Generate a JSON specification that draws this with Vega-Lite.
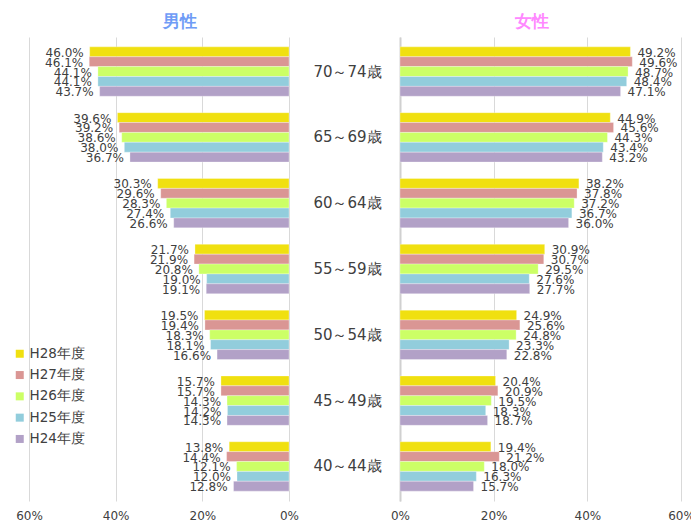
{
  "$schema": "https://vega.github.io/schema/vega-lite/v6.json",
  "background": "white",
  "padding": {"left": 13, "top": 13, "right": 5, "bottom": 0},
  "bounds": "flush",
  "spacing": 111,
  "datasets": {
    "rows": [
      {"sex": "男性", "age": "70～74歳", "year": "H28年度", "value": 0.460},
      {"sex": "男性", "age": "70～74歳", "year": "H27年度", "value": 0.461},
      {"sex": "男性", "age": "70～74歳", "year": "H26年度", "value": 0.441},
      {"sex": "男性", "age": "70～74歳", "year": "H25年度", "value": 0.441},
      {"sex": "男性", "age": "70～74歳", "year": "H24年度", "value": 0.437},
      {"sex": "男性", "age": "65～69歳", "year": "H28年度", "value": 0.396},
      {"sex": "男性", "age": "65～69歳", "year": "H27年度", "value": 0.392},
      {"sex": "男性", "age": "65～69歳", "year": "H26年度", "value": 0.386},
      {"sex": "男性", "age": "65～69歳", "year": "H25年度", "value": 0.380},
      {"sex": "男性", "age": "65～69歳", "year": "H24年度", "value": 0.367},
      {"sex": "男性", "age": "60～64歳", "year": "H28年度", "value": 0.303},
      {"sex": "男性", "age": "60～64歳", "year": "H27年度", "value": 0.296},
      {"sex": "男性", "age": "60～64歳", "year": "H26年度", "value": 0.283},
      {"sex": "男性", "age": "60～64歳", "year": "H25年度", "value": 0.274},
      {"sex": "男性", "age": "60～64歳", "year": "H24年度", "value": 0.266},
      {"sex": "男性", "age": "55～59歳", "year": "H28年度", "value": 0.217},
      {"sex": "男性", "age": "55～59歳", "year": "H27年度", "value": 0.219},
      {"sex": "男性", "age": "55～59歳", "year": "H26年度", "value": 0.208},
      {"sex": "男性", "age": "55～59歳", "year": "H25年度", "value": 0.190},
      {"sex": "男性", "age": "55～59歳", "year": "H24年度", "value": 0.191},
      {"sex": "男性", "age": "50～54歳", "year": "H28年度", "value": 0.195},
      {"sex": "男性", "age": "50～54歳", "year": "H27年度", "value": 0.194},
      {"sex": "男性", "age": "50～54歳", "year": "H26年度", "value": 0.183},
      {"sex": "男性", "age": "50～54歳", "year": "H25年度", "value": 0.181},
      {"sex": "男性", "age": "50～54歳", "year": "H24年度", "value": 0.166},
      {"sex": "男性", "age": "45～49歳", "year": "H28年度", "value": 0.157},
      {"sex": "男性", "age": "45～49歳", "year": "H27年度", "value": 0.157},
      {"sex": "男性", "age": "45～49歳", "year": "H26年度", "value": 0.143},
      {"sex": "男性", "age": "45～49歳", "year": "H25年度", "value": 0.142},
      {"sex": "男性", "age": "45～49歳", "year": "H24年度", "value": 0.143},
      {"sex": "男性", "age": "40～44歳", "year": "H28年度", "value": 0.138},
      {"sex": "男性", "age": "40～44歳", "year": "H27年度", "value": 0.144},
      {"sex": "男性", "age": "40～44歳", "year": "H26年度", "value": 0.121},
      {"sex": "男性", "age": "40～44歳", "year": "H25年度", "value": 0.120},
      {"sex": "男性", "age": "40～44歳", "year": "H24年度", "value": 0.128},
      {"sex": "女性", "age": "70～74歳", "year": "H28年度", "value": 0.492},
      {"sex": "女性", "age": "70～74歳", "year": "H27年度", "value": 0.496},
      {"sex": "女性", "age": "70～74歳", "year": "H26年度", "value": 0.487},
      {"sex": "女性", "age": "70～74歳", "year": "H25年度", "value": 0.484},
      {"sex": "女性", "age": "70～74歳", "year": "H24年度", "value": 0.471},
      {"sex": "女性", "age": "65～69歳", "year": "H28年度", "value": 0.449},
      {"sex": "女性", "age": "65～69歳", "year": "H27年度", "value": 0.456},
      {"sex": "女性", "age": "65～69歳", "year": "H26年度", "value": 0.443},
      {"sex": "女性", "age": "65～69歳", "year": "H25年度", "value": 0.434},
      {"sex": "女性", "age": "65～69歳", "year": "H24年度", "value": 0.432},
      {"sex": "女性", "age": "60～64歳", "year": "H28年度", "value": 0.382},
      {"sex": "女性", "age": "60～64歳", "year": "H27年度", "value": 0.378},
      {"sex": "女性", "age": "60～64歳", "year": "H26年度", "value": 0.372},
      {"sex": "女性", "age": "60～64歳", "year": "H25年度", "value": 0.367},
      {"sex": "女性", "age": "60～64歳", "year": "H24年度", "value": 0.360},
      {"sex": "女性", "age": "55～59歳", "year": "H28年度", "value": 0.309},
      {"sex": "女性", "age": "55～59歳", "year": "H27年度", "value": 0.307},
      {"sex": "女性", "age": "55～59歳", "year": "H26年度", "value": 0.295},
      {"sex": "女性", "age": "55～59歳", "year": "H25年度", "value": 0.276},
      {"sex": "女性", "age": "55～59歳", "year": "H24年度", "value": 0.277},
      {"sex": "女性", "age": "50～54歳", "year": "H28年度", "value": 0.249},
      {"sex": "女性", "age": "50～54歳", "year": "H27年度", "value": 0.256},
      {"sex": "女性", "age": "50～54歳", "year": "H26年度", "value": 0.248},
      {"sex": "女性", "age": "50～54歳", "year": "H25年度", "value": 0.233},
      {"sex": "女性", "age": "50～54歳", "year": "H24年度", "value": 0.228},
      {"sex": "女性", "age": "45～49歳", "year": "H28年度", "value": 0.204},
      {"sex": "女性", "age": "45～49歳", "year": "H27年度", "value": 0.209},
      {"sex": "女性", "age": "45～49歳", "year": "H26年度", "value": 0.195},
      {"sex": "女性", "age": "45～49歳", "year": "H25年度", "value": 0.183},
      {"sex": "女性", "age": "45～49歳", "year": "H24年度", "value": 0.187},
      {"sex": "女性", "age": "40～44歳", "year": "H28年度", "value": 0.194},
      {"sex": "女性", "age": "40～44歳", "year": "H27年度", "value": 0.212},
      {"sex": "女性", "age": "40～44歳", "year": "H26年度", "value": 0.180},
      {"sex": "女性", "age": "40～44歳", "year": "H25年度", "value": 0.163},
      {"sex": "女性", "age": "40～44歳", "year": "H24年度", "value": 0.157}
    ]
  },
  "config": {
    "view": {"stroke": null},
    "font": "DejaVu Sans",
    "axis": {
      "gridColor": "#d9d9d9",
      "gridWidth": 1,
      "labelColor": "#404040",
      "labelFont": "DejaVu Sans",
      "labelFlush": false,
      "ticks": false,
      "domain": false,
      "title": null
    },
    "title": {"fontSize": 17, "fontWeight": "bold", "font": "DejaVu Sans"}
  },
  "hconcat": [
    {
      "width": 260,
      "height": 464,
      "title": {"text": "男性", "color": "#6f9cf6", "dx": 21, "offset": 6},
      "data": {"name": "rows"},
      "transform": [{"filter": "datum.sex === '男性'"}],
      "encoding": {
        "y": {
          "field": "age", "type": "nominal",
          "sort": ["70～74歳", "65～69歳", "60～64歳", "55～59歳", "50～54歳", "45～49歳", "40～44歳"],
          "scale": {"paddingInner": 0.25, "paddingOuter": 0.15},
          "axis": null
        },
        "yOffset": {
          "field": "year", "type": "nominal",
          "sort": ["H28年度", "H27年度", "H26年度", "H25年度", "H24年度"]
        },
        "x": {
          "field": "value", "type": "quantitative",
          "scale": {"domain": [0, 0.6], "reverse": true, "nice": false},
          "axis": {"values": [0, 0.2, 0.4, 0.6], "format": ".0%", "labelFontSize": 12, "labelPadding": 9}
        }
      },
      "layer": [
        {
          "mark": {"type": "bar", "stroke": "white", "strokeWidth": 0.5, "strokeOpacity": 0.6},
          "encoding": {
            "color": {
              "field": "year", "type": "nominal",
              "sort": ["H28年度", "H27年度", "H26年度", "H25年度", "H24年度"],
              "scale": {"domain": ["H28年度", "H27年度", "H26年度", "H25年度", "H24年度"], "range": ["#f0e010", "#da9694", "#ccff66", "#92cddc", "#b2a1c7"]},
              "legend": {
                "title": null, "orient": "none", "legendX": -16, "legendY": 310,
                "symbolType": "square", "symbolSize": 64, "symbolStrokeWidth": 0,
                "labelFontSize": 13.5, "labelColor": "#404040", "rowPadding": 6.3, "labelOffset": 3
              }
            }
          }
        },
        {
          "mark": {"type": "text", "align": "right", "baseline": "middle", "dx": -6, "dy": 1, "fontSize": 12, "color": "#404040"},
          "encoding": {"text": {"field": "value", "type": "quantitative", "format": ".1%"}}
        }
      ]
    },
    {
      "width": 281,
      "height": 464,
      "title": {"text": "女性", "color": "#ff88ff", "dx": -9, "offset": 6},
      "data": {"name": "rows"},
      "transform": [{"filter": "datum.sex === '女性'"}],
      "encoding": {
        "y": {
          "field": "age", "type": "nominal",
          "sort": ["70～74歳", "65～69歳", "60～64歳", "55～59歳", "50～54歳", "45～49歳", "40～44歳"],
          "scale": {"paddingInner": 0.25, "paddingOuter": 0.15},
          "axis": {"labelAlign": "center", "labelPadding": 53, "labelFontSize": 15, "labelColor": "#404040", "domain": true, "domainColor": "#d0d0d0", "domainWidth": 2}
        },
        "yOffset": {
          "field": "year", "type": "nominal",
          "sort": ["H28年度", "H27年度", "H26年度", "H25年度", "H24年度"]
        },
        "x": {
          "field": "value", "type": "quantitative",
          "scale": {"domain": [0, 0.6], "nice": false},
          "axis": {"values": [0, 0.2, 0.4, 0.6], "format": ".0%", "labelFontSize": 12, "labelPadding": 9}
        }
      },
      "layer": [
        {
          "mark": {"type": "bar", "stroke": "white", "strokeWidth": 0.5, "strokeOpacity": 0.6},
          "encoding": {
            "color": {"field": "year", "type": "nominal", "sort": ["H28年度", "H27年度", "H26年度", "H25年度", "H24年度"]}
          }
        },
        {
          "mark": {"type": "text", "align": "left", "baseline": "middle", "dx": 7, "dy": 1, "fontSize": 12, "color": "#404040"},
          "encoding": {"text": {"field": "value", "type": "quantitative", "format": ".1%"}}
        }
      ]
    }
  ]
}
